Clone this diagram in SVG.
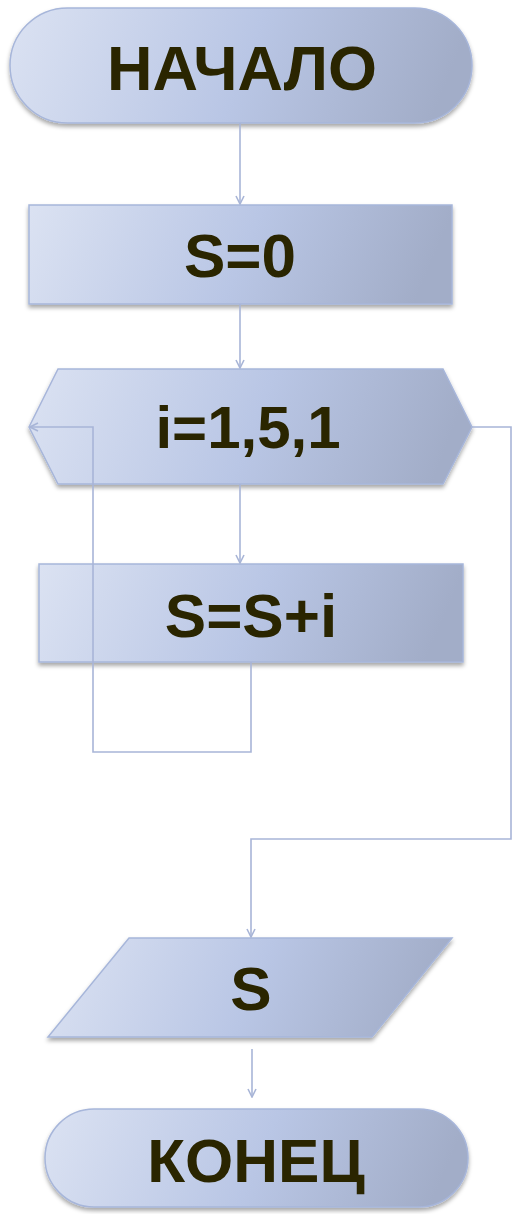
<svg xmlns="http://www.w3.org/2000/svg" width="512" height="1214" viewBox="0 0 512 1214">
<style>
.shape{fill:url(#g);stroke:#a7b6da;stroke-width:1.5;filter:url(#sh)}
.t{font-family:"Liberation Sans",Arial,sans-serif;font-weight:bold;fill:#2a2500;text-anchor:middle}
.c{fill:none;stroke:#a8b5d7;stroke-width:1.6}
</style>
<defs>
<linearGradient id="g" x1="0" y1="0" x2="1" y2="0.1">
<stop offset="0" stop-color="#dbe2f2"/>
<stop offset="0.55" stop-color="#b9c6e5"/>
<stop offset="1" stop-color="#a2adc8"/>
</linearGradient>
<filter id="sh" x="-10%" y="-10%" width="120%" height="130%">
<feDropShadow dx="0" dy="3" stdDeviation="2" flood-color="#000" flood-opacity="0.35"/>
</filter>
<marker id="a" markerWidth="10" markerHeight="10" refX="9" refY="5" orient="auto" markerUnits="userSpaceOnUse">
<path d="M1,1 L9,5 L1,9" fill="none" stroke="#a8b5d7" stroke-width="1.6"/>
</marker>
</defs>
<g id="start">
<rect class="shape" x="10" y="8" width="462" height="115" rx="57.5" ry="57.5"/>
<text class="t" x="242" y="90" font-size="63">НАЧАЛО</text>
</g>
<g id="init">
<rect class="shape" x="29" y="205" width="423" height="99"/>
<text class="t" x="240" y="277" font-size="62">S=0</text>
</g>
<g id="loop">
<polygon class="shape" points="29,427 58,369 443,369 472,427 443,484 58,484"/>
<text class="t" x="248" y="448" font-size="60">i=1,5,1</text>
</g>
<g id="body">
<rect class="shape" x="39" y="564" width="424" height="98"/>
<text class="t" x="251" y="637" font-size="62">S=S+i</text>
</g>
<g id="output">
<polygon class="shape" points="129,938 452,938 372,1037 48,1037"/>
<text class="t" x="251" y="1010" font-size="62">S</text>
</g>
<g id="end">
<rect class="shape" x="45" y="1109" width="423" height="98" rx="49" ry="49"/>
<text class="t" x="256" y="1182" font-size="62">КОНЕЦ</text>
</g>
<g id="connectors">
<path class="c" d="M240,123 V204" marker-end="url(#a)"/>
<path class="c" d="M240,304 V368" marker-end="url(#a)"/>
<path class="c" d="M240,484 V563" marker-end="url(#a)"/>
<path class="c" d="M251,662 V752 H93 V427 H30" marker-end="url(#a)"/>
<path class="c" d="M472,427 H511 V839 H251 V937" marker-end="url(#a)"/>
<path class="c" d="M252,1049 V1097" marker-end="url(#a)"/>
</g>
</svg>
